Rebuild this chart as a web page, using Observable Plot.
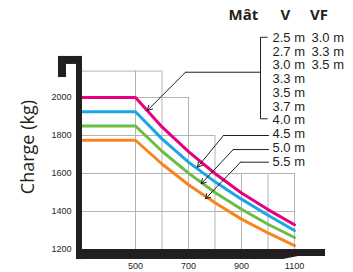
<!DOCTYPE html>
<html><head><meta charset="utf-8">
<script src="https://cdn.jsdelivr.net/npm/d3@7"></script>
<script src="https://cdn.jsdelivr.net/npm/@observablehq/plot@0.6"></script>
<style>body{margin:0;background:#fff}</style>
</head><body><div id="chart"></div>
<script>
// Load centre (mm) and capacity (kg)
const loadCentre = [300, 500, 600, 700, 800, 900, 1000, 1100];
const mastA = [2000, 2000, 1845, 1715, 1600, 1497, 1410, 1330]; // 2.5–4.0 m
const mastB = [1925, 1925, 1782, 1660, 1556, 1465, 1380, 1300]; // 4.5 m
const mastC = [1850, 1850, 1717, 1602, 1500, 1412, 1333, 1263]; // 5.0 m
const mastD = [1775, 1775, 1650, 1541, 1446, 1360, 1287, 1220]; // 5.5 m
const seriesNames = ["A", "B", "C", "D"];
const seriesColors = ["#e6007e", "#1ba6e4", "#6bbd45", "#f7841f"];

const xTicks = [500, 700, 900, 1100];
const yTicks = [1200, 1400, 1600, 1800, 2000];

// stepped grid
const gridV = [{x: 500, top: 2139}, {x: 600, top: 2139}, {x: 700, top: 2000}, {x: 800, top: 1800}, {x: 900, top: 1600}, {x: 1000, top: 1600}, {x: 1100, top: 1600}];
const gridH = [{y: 2139, right: 600}, {y: 2000, right: 700}, {y: 1800, right: 800}, {y: 1600, right: 1100}, {y: 1400, right: 1100}];

// legend
const headings = [{t: "Mât", x: 907}, {t: "V", x: 1066}, {t: "VF", x: 1192}];
const mastV = ["2.5 m", "2.7 m", "3.0 m", "3.3 m", "3.5 m", "3.7 m", "4.0 m", "4.5 m", "5.0 m", "5.5 m"];
const mastVF = ["3.0 m", "3.3 m", "3.5 m"];
const rowY = [2316, 2243, 2171, 2098, 2025, 1953, 1880, 1807, 1735, 1662];

// leader lines and arrows (data units)
const leaders = [
  {id: "b", pts: [[997, 2317], [971.7, 2317], [971.7, 1888], [997, 1888]]},
  {id: "c0", pts: [[971.7, 2133], [688.7, 2133]]},
  {id: "c1", pts: [[1002, 1800], [832, 1800]]},
  {id: "c2", pts: [[1002, 1726], [868.7, 1726]]},
  {id: "c3", pts: [[1002, 1659.5], [896, 1659.5]]}
];
const arrows = [
  {x1: 688.7, y1: 2133, x2: 545, y2: 1932},
  {x1: 832, y1: 1800, x2: 734, y2: 1633},
  {x1: 868.7, y1: 1726, x2: 748, y2: 1546},
  {x1: 896, y1: 1659.5, x2: 764, y2: 1467}
];

// black frame
const frameRects = [
  {x1: 277.4, x2: 300, y1: 1147, y2: 2216},
  {x1: 209.4, x2: 300, y1: 2174, y2: 2216},
  {x1: 209.4, x2: 239.6, y1: 2105, y2: 2216}
];
const frameBottom = [
  {x: 277.4, top: 1200, bot: 1147},
  {x: 1058, top: 1200, bot: 1147},
  {x: 1115, top: 1200, bot: 1163},
  {x: 1217, top: 1200, bot: 1163}
];

const series = [mastA, mastB, mastC, mastD];
const data = [];
series.forEach((vals, i) => vals.forEach((v, j) => data.push({series: seriesNames[i], x: loadCentre[j], y: v})));
const leaderPts = leaders.flatMap(l => l.pts.map(([x, y]) => ({id: l.id, x, y})));
const rowsV = mastV.map((t, i) => ({t, y: rowY[i]}));
const rowsVF = mastVF.map((t, i) => ({t, y: rowY[i]}));

const chart = Plot.plot({
  width: 353, height: 272,
  marginLeft: 82, marginRight: 59, marginTop: 97, marginBottom: 23,
  style: {fontFamily: "Liberation Sans, Arial, sans-serif", background: "#fff"},
  x: {domain: [300, 1100]},
  y: {domain: [1200, 2000]},
  color: {domain: seriesNames, range: seriesColors},
  marks: [
    Plot.ruleX(gridV, {x: "x", y1: 1200, y2: "top", stroke: "#b3b3b3", strokeWidth: 1}),
    Plot.ruleY(gridH, {y: "y", x1: 300, x2: "right", stroke: "#b3b3b3", strokeWidth: 1}),
    Plot.line(data, {x: "x", y: "y", z: "series", stroke: "series", strokeWidth: 3, strokeLinejoin: "miter"}),
    Plot.rect(frameRects, {x1: "x1", x2: "x2", y1: "y1", y2: "y2", fill: "#231f20"}),
    Plot.areaY(frameBottom, {x: "x", y1: "top", y2: "bot", fill: "#231f20"}),
    Plot.axisY({ticks: yTicks, tickFormat: d => String(d), tickSize: 0, tickPadding: 11, fontSize: 9, label: null, fill: "#231f20"}),
    Plot.axisX({ticks: xTicks, tickFormat: d => String(d), tickSize: 0, tickPadding: 13, fontSize: 9, label: null, fill: "#231f20"}),
    Plot.text(["Charge (kg)"], {x: 96, y: 1739, rotate: -90, fontSize: 18, fontFamily: "Open Sans", fill: "#231f20"}),
    Plot.text(headings, {x: "x", y: 2432, text: "t", fontSize: 15, fontWeight: 700, fontFamily: "Open Sans", fill: "#231f20"}),
    Plot.text(rowsV, {x: 1017, y: "y", text: "t", textAnchor: "start", fontSize: 13, fill: "#231f20"}),
    Plot.text(rowsVF, {x: 1164, y: "y", text: "t", textAnchor: "start", fontSize: 13, fill: "#231f20"}),
    Plot.line(leaderPts, {x: "x", y: "y", z: "id", stroke: "#231f20", strokeWidth: 1}),
    Plot.arrow(arrows, {x1: "x1", y1: "y1", x2: "x2", y2: "y2", stroke: "#231f20", strokeWidth: 1, headLength: 8})
  ]
});
document.getElementById("chart").append(chart);
</script></body></html>
